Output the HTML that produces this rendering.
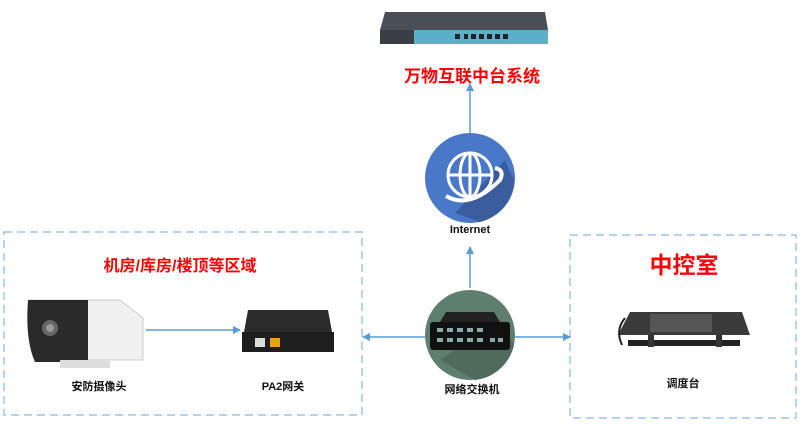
<!DOCTYPE html>
<html><head><meta charset="utf-8"><style>
body{margin:0;width:800px;height:424px;background:#fff;overflow:hidden;font-family:"Liberation Sans","Noto Sans CJK SC",sans-serif;}
.t{position:absolute;font-weight:bold;white-space:nowrap;transform:translateX(-50%);}
</style></head><body>
<svg width="800" height="424" style="position:absolute;left:0;top:0">
<defs><marker id="a" markerWidth="8" markerHeight="8" refX="7" refY="4" orient="auto" markerUnits="userSpaceOnUse"><path d="M0,0 L8,4 L0,8z" fill="#5b9bd5"/></marker></defs>
<rect x="4" y="232" width="358" height="183" fill="none" stroke="#9dc3e6" stroke-width="1.5" stroke-dasharray="8,5"/>
<rect x="570" y="235" width="226" height="183" fill="none" stroke="#9dc3e6" stroke-width="1.5" stroke-dasharray="8,5"/>
<g stroke="#5b9bd5" stroke-width="1.5" marker-end="url(#a)">
<line x1="470" y1="134" x2="470" y2="84"/>
<line x1="470" y1="288" x2="470" y2="247"/>
<line x1="146" y1="330" x2="240" y2="330"/>
<line x1="425" y1="337" x2="363" y2="337"/>
<line x1="512" y1="337" x2="570" y2="337"/>
</g>
<!-- router -->
<path d="M385,12 L545,12 L548,30 L380,30z" fill="#4a4f57"/>
<rect x="380" y="30" width="168" height="14" fill="#3a3e45"/>
<rect x="414" y="30" width="134" height="14" fill="#5ab0c8"/>
<g fill="#222"><rect x="455" y="34" width="5" height="5"/><rect x="464" y="34" width="4" height="5"/><rect x="471" y="34" width="5" height="5"/><rect x="479" y="34" width="5" height="5"/><rect x="487" y="34" width="5" height="5"/><rect x="495" y="34" width="5" height="5"/><rect x="503" y="34" width="5" height="5"/></g>
<!-- globe -->
<circle cx="470" cy="178" r="45" fill="#4a78c8"/>
<path d="M455,213 L505,160 L514,180 A45,45 0 0 1 480,222z" fill="#3a5d9e"/>
<circle cx="470" cy="175" r="22" fill="none" stroke="#fff" stroke-width="3"/>
<ellipse cx="470" cy="175" rx="10" ry="22" fill="none" stroke="#fff" stroke-width="3"/>
<line x1="448" y1="175" x2="492" y2="175" stroke="#fff" stroke-width="3"/>
<line x1="470" y1="153" x2="470" y2="197" stroke="#fff" stroke-width="3"/>
<path d="M446,196 Q470,210 500,180 Q505,170 495,168" fill="none" stroke="#fff" stroke-width="4"/>
<!-- switch -->
<circle cx="470" cy="335" r="45" fill="#5f7f6e"/>
<path d="M440,360 L500,320 L514,345 A45,45 0 0 1 475,380z" fill="#4e6b5c"/>
<rect x="430" y="322" width="80" height="28" rx="3" fill="#111"/>
<path d="M440,322 L500,322 L494,312 L446,312z" fill="#222"/>
<g fill="#8aa"><rect x="437" y="328" width="6" height="4"/><rect x="447" y="328" width="6" height="4"/><rect x="457" y="328" width="6" height="4"/><rect x="467" y="328" width="6" height="4"/><rect x="477" y="328" width="6" height="4"/><rect x="437" y="338" width="6" height="4"/><rect x="447" y="338" width="6" height="4"/><rect x="457" y="338" width="6" height="4"/><rect x="467" y="338" width="6" height="4"/><rect x="477" y="338" width="6" height="4"/><rect x="490" y="338" width="5" height="4"/><rect x="498" y="338" width="5" height="4"/></g>
<!-- camera -->
<path d="M30,300 L120,300 L143,318 L143,360 L45,360 Z" fill="#f0f0f0" stroke="#ccc"/>
<path d="M28,300 L88,300 L88,362 L35,362 Q25,340 28,300z" fill="#2a2a2a"/>
<circle cx="50" cy="328" r="8" fill="#666"/><circle cx="50" cy="328" r="4" fill="#999"/>
<rect x="60" y="360" width="50" height="8" fill="#ddd"/>
<!-- PA2 -->
<path d="M248,310 L328,310 L332,332 L244,332z" fill="#2b2b2b"/>
<rect x="242" y="332" width="92" height="20" fill="#1e1e1e"/>
<rect x="255" y="338" width="10" height="9" fill="#ddd"/><rect x="270" y="338" width="10" height="9" fill="#e8a020"/>
<!-- console -->
<path d="M630,312 L742,312 L750,335 L618,335z" fill="#3a3a3a"/>
<rect x="650" y="314" width="62" height="18" fill="#555"/>
<rect x="628" y="340" width="112" height="6" fill="#222"/>
<rect x="648" y="335" width="6" height="12" fill="#333"/><rect x="716" y="335" width="6" height="12" fill="#333"/>
<path d="M625,318 Q615,330 622,345" fill="none" stroke="#222" stroke-width="2"/>
</svg>
<div class="t" style="left:472px;top:62px;color:#f00;font-size:17px">万物互联中台系统</div>
<div class="t" style="left:470px;top:224px;font-size:11px;color:#111">Internet</div>
<div class="t" style="left:180px;top:252px;color:#f00;font-size:16px">机房/库房/楼顶等区域</div>
<div class="t" style="left:684px;top:246px;color:#f00;font-size:23px">中控室</div>
<div class="t" style="left:99px;top:378px;font-size:11px;color:#111">安防摄像头</div>
<div class="t" style="left:283px;top:378px;font-size:11px;color:#111">PA2网关</div>
<div class="t" style="left:472px;top:381px;font-size:11px;color:#111">网络交换机</div>
<div class="t" style="left:683px;top:375px;font-size:11px;color:#111">调度台</div>
</body></html>
